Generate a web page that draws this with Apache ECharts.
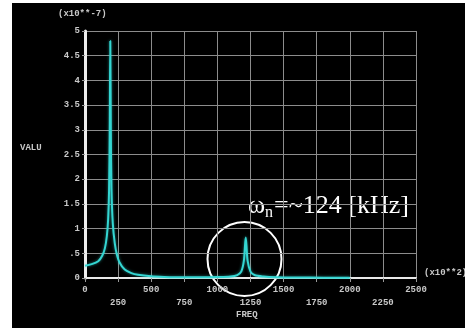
<!DOCTYPE html>
<html>
<head>
<meta charset="utf-8">
<script src="https://cdn.jsdelivr.net/npm/echarts@6/dist/echarts.min.js"></script>
<style>
  html, body { margin: 0; padding: 0; background: #fff; }
  #chart { position: absolute; left: 12px; top: 3px; width: 453px; height: 325px; }
</style>
</head>
<body>
<div id="chart"></div>
<script>
// frequency (x10**2) and response value (x10**-7)
var freq = [0, 50, 100, 130, 150, 165, 175, 182, 187, 191, 195, 200, 210, 225, 240, 260, 300, 350, 400, 500,
  600, 700, 800, 900, 1000, 1100, 1150, 1180, 1200, 1214, 1228, 1250, 1280, 1350, 1450, 1600, 1800, 2000]
var valu = [0.25, 0.28, 0.34, 0.45, 0.6, 0.85, 1.2, 1.8, 3.0, 4.8, 3.0, 1.8, 1.1, 0.7, 0.48, 0.32, 0.17, 0.1, 0.065, 0.035,
  0.022, 0.016, 0.013, 0.014, 0.018, 0.03, 0.06, 0.13, 0.35, 0.82, 0.35, 0.13, 0.06, 0.03, 0.016, 0.01, 0.007, 0.005]

var xTicks = { min: 0, max: 2500, step: 250 }
var yTicks = { min: 0, max: 5, step: 0.5 }

var labelFont = { color: '#c8c8c8', fontFamily: 'Liberation Mono', fontWeight: 'bold', fontSize: 9 }

function isOddTick(v) { return Math.round(v / xTicks.step) % 2 === 1 }

var chart = echarts.init(document.getElementById('chart'))
chart.setOption({
  backgroundColor: '#000',
  animation: false,
  grid: { left: 73, right: 49, top: 28, bottom: 50 },
  xAxis: [{
    type: 'value',
    min: xTicks.min,
    max: xTicks.max,
    interval: xTicks.step,
    axisLine: { lineStyle: { color: '#e8e8e8', width: 2 } },
    axisTick: { length: 4, lineStyle: { color: '#999' } },
    splitLine: { lineStyle: { color: '#8c8c8c', width: 1 } },
    axisLabel: Object.assign({
      margin: 7,
      formatter: function (v) { return isOddTick(v) ? '' : String(v) }
    }, labelFont)
  }, {
    // second row of labels (250, 750, ...)
    type: 'value',
    position: 'bottom',
    min: xTicks.min,
    max: xTicks.max,
    interval: xTicks.step,
    axisLine: { show: false },
    axisTick: { show: false },
    splitLine: { show: false },
    axisLabel: Object.assign({
      margin: 20,
      formatter: function (v) { return isOddTick(v) ? String(v) : '' }
    }, labelFont)
  }],
  yAxis: {
    type: 'value',
    min: yTicks.min,
    max: yTicks.max,
    interval: yTicks.step,
    axisLine: { show: true, lineStyle: { color: '#eeeeee', width: 3 } },
    axisTick: { show: true, length: 3, lineStyle: { color: '#999' } },
    splitLine: { lineStyle: { color: '#8c8c8c', width: 1 } },
    axisLabel: Object.assign({
      margin: 5,
      formatter: function (v) {
        if (v === 0) return '0'
        return v < 1 ? String(v).replace(/^0/, '') : String(v)
      }
    }, labelFont)
  },
  series: [{
    type: 'line',
    xAxisIndex: 0,
    data: freq.map(function (f, i) { return [f, valu[i]] }),
    smooth: 0.3,
    showSymbol: false,
    lineStyle: { color: '#34d6d2', width: 2, shadowColor: 'rgba(52,214,210,0.6)', shadowBlur: 3 }
  }],
  graphic: [
    { type: 'text', left: 46, top: 6, style: Object.assign({ text: '(x10**-7)' }, labelFont, { fill: '#c8c8c8' }) },
    { type: 'text', left: 8, top: 140, style: { text: 'VALU', fill: '#c8c8c8', font: 'bold 9px "Liberation Mono"' } },
    { type: 'text', left: 412, top: 265, style: { text: '(x10**2)', fill: '#c8c8c8', font: 'bold 9px "Liberation Mono"' } },
    { type: 'text', left: 224, top: 307, style: { text: 'FREQ', fill: '#c8c8c8', font: 'bold 9px "Liberation Mono"' } },
    { type: 'circle', shape: { cx: 232.5, cy: 256, r: 37 }, style: { fill: 'none', stroke: '#fff', lineWidth: 2 } },
    { type: 'text', x: 236, y: 203, style: { text: 'ω', fill: '#fff', font: '26px "Liberation Serif"', verticalAlign: 'middle' } },
    { type: 'text', x: 253, y: 210, style: { text: 'n', fill: '#fff', font: '16px "Liberation Serif"', verticalAlign: 'middle' } },
    { type: 'text', x: 262, y: 203, style: { text: '=~124 [kHz]', fill: '#fff', font: '26px "Liberation Serif"', verticalAlign: 'middle' } }
  ]
})
</script>
</body>
</html>
